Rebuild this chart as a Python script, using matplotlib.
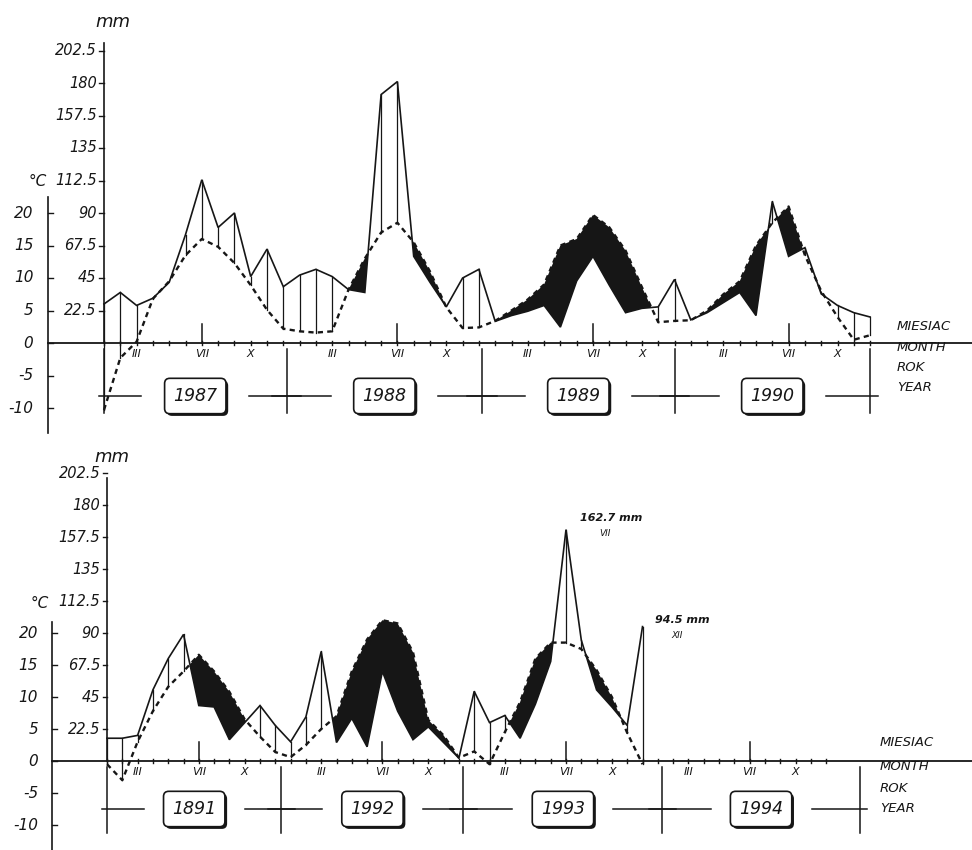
import numpy as np
import matplotlib.pyplot as plt
from matplotlib import patheffects

MM_PER_DEG = 4.5
INK = '#161616'

# monthly mean temperature (deg C) and precipitation (mm), Jan..Dec
years_top = ['1987', '1988', '1989', '1990']
temp_top = [-10.3, -2.3, 0.2, 6.8, 9.5, 13.5, 16.0, 14.8, 12.3, 8.9, 5.1, 2.2,
            1.8, 1.6, 1.8, 8.2, 13.0, 17.0, 18.5, 15.5, 11.0, 5.5, 2.3, 2.4,
            3.4, 5.0, 6.7, 9.0, 15.0, 16.0, 19.7, 17.8, 14.2, 8.6, 3.2, 3.4,
            3.5, 5.0, 7.5, 9.5, 15.0, 18.5, 21.0, 13.5, 8.0, 4.0, 0.5, 1.2]
prec_top = [27, 35, 26, 31, 42, 75, 113, 80, 90, 46, 65, 39,
            47, 51, 46, 37, 35, 172, 181, 60, 42, 25, 45, 51,
            15, 19, 22, 26, 11, 43, 60, 40, 21, 24, 25, 44,
            16, 21, 28, 35, 19, 98, 60, 66, 34, 26, 21, 18]

years_bottom = ['1891', '1992', '1993', '1994']
temp_bottom = [-0.5, -3.0, 3.0, 7.8, 11.6, 14.0, 16.6, 14.0, 10.8, 6.5, 3.8, 1.4,
               0.6, 2.5, 5.0, 7.0, 14.0, 19.0, 22.0, 21.5, 17.0, 6.4, 4.0, 0.5,
               1.5, -0.5, 4.5, 9.2, 16.0, 18.5, 18.5, 17.5, 14.2, 10.0, 4.4, -0.5]
prec_bottom = [16, 16, 18, 50, 72, 89, 39, 38, 15, 27, 39, 25,
               13.5, 31, 77, 13, 30, 10, 63, 35, 15, 24, 13, 2,
               49, 27, 32, 16, 40, 70, 162.7, 85, 50, 38, 25, 94.5]

prec_ticks = [22.5, 45, 67.5, 90, 112.5, 135, 157.5, 180, 202.5]
prec_tick_labels = ['22.5', '45', '67.5', '90', '112.5', '135', '157.5', '180', '202.5']
temp_ticks = [20, 15, 10, 5, 0, -5, -10]
month_marks = {2: 'III', 6: 'VII', 9: 'X'}
side_labels = ['MIESIAC', 'MONTH', 'ROK', 'YEAR']

W, H = 972, 850
fig = plt.figure(figsize=(W / 100, H / 100), dpi=100)
fig.patch.set_facecolor('white')

txt = dict(color=INK, fontstyle='italic', family='DejaVu Sans')


def panel(top_px, bot_px, x0, dx, y0, dy, years, temp, prec, bounds, lay):
    ax = fig.add_axes([0, 1 - bot_px / H, 1, (bot_px - top_px) / H])
    ax.set_xlim(-x0 / dx, (W - x0) / dx)
    ax.set_ylim((y0 - bot_px) / dy, (y0 - top_px) / dy)
    ax.axis('off')
    xd = lambda px: (px - x0) / dx
    yd = lambda py: (y0 - py) / dy

    x = np.arange(len(temp))
    t = np.array(temp, dtype=float)
    p = np.array(prec, dtype=float) / MM_PER_DEG

    # arid period (temperature above precipitation) in black
    ax.fill_between(x, t, p, where=t >= p, interpolate=True, color=INK, lw=0)
    # humid period: vertical hatch at each month
    for xi, ti, pi in zip(x, t, p):
        if pi > ti:
            ax.plot([xi, xi], [ti, pi], color=INK, lw=0.9)
    ax.plot(x, p, color=INK, lw=1.2, solid_joinstyle='miter')
    ax.plot(x, t, color=INK, lw=1.7, ls=(0, (2.2, 1.8)))

    # axes lines
    ax.plot([xd(lay['taxis']), xd(W)], [0, 0], color=INK, lw=1.3)
    ax.plot([xd(lay['taxis'])] * 2, [yd(lay['tspan'][0]), yd(lay['tspan'][1])], color=INK, lw=1.2)
    ax.plot([0, 0], [0, yd(lay['ptop'])], color=INK, lw=1.2)
    for v, lab in zip(prec_ticks, prec_tick_labels):
        ax.plot([-0.28, 0], [v / MM_PER_DEG] * 2, color=INK, lw=1.0)
        ax.text(-0.45, v / MM_PER_DEG, lab, ha='right', va='center', fontsize=10.5, **txt)
    for v in temp_ticks:
        ax.plot([xd(lay['taxis']), xd(lay['taxis']) + 0.3], [v, v], color=INK, lw=1.0)
        ax.text(xd(lay['taxis']) - 0.9, v, str(v), ha='right', va='center',
                fontsize=11, **txt)
    ax.text(xd(lay['mm'][0]), yd(lay['mm'][1]), 'mm', ha='center', va='center', fontsize=13, **txt)
    ax.text(xd(lay['degc'][0]), yd(lay['degc'][1]), '°C', ha='center', va='center', fontsize=11, **txt)

    # month ticks and labels
    for k in range(len(years)):
        for m in range(12):
            xm = 12 * k + m
            ax.plot([xm, xm], [-0.35, 0.35], color=INK, lw=1.0)
            if m == 6:
                ax.plot([xm, xm], [0, 3.0], color=INK, lw=1.1)
            if m in month_marks:
                ax.text(xm, -1.7, month_marks[m], ha='center', va='center', fontsize=8, **txt)

    # year crosses and boxes
    yl = yd(lay['yline'])
    for b in bounds:
        ax.plot([b, b], [yd(lay['cross'][0]), yd(lay['cross'][1])], color=INK, lw=1.1)
    gap = 3.3
    for k, yr in enumerate(years):
        b0, b1 = bounds[k], bounds[k + 1]
        c = (b0 + b1) / 2
        ax.plot([b0 - (0.3 if k == 0 else 0.9), c - gap], [yl, yl], color=INK, lw=1.1)
        ax.plot([c + gap, b1 + (0.5 if k == len(years) - 1 else 0.9)], [yl, yl], color=INK, lw=1.1)
        tx = ax.text(c, yl, yr, ha='center', va='center', fontsize=12.5, **txt,
                     bbox=dict(boxstyle='round,pad=0.5,rounding_size=0.3', fc='white',
                               ec=INK, lw=1.2))
        tx.get_bbox_patch().set_path_effects([
            patheffects.SimplePatchShadow(offset=(1.6, -1.6), shadow_rgbFace=INK, alpha=1),
            patheffects.Normal()])

    for lab, py in zip(side_labels, lay['side']):
        ax.text(xd(lay['sidex']), yd(py), lab, ha='left', va='center', fontsize=9.5, **txt)
    return ax, xd, yd


top_lay = dict(taxis=48, tspan=(197, 433), ptop=43, yline=396, cross=(349, 413),
               mm=(113, 22), degc=(38, 182), side=(326, 347, 367, 387), sidex=897)
panel(0, 440, 104, 16.3, 343, 6.5, years_top, temp_top, prec_top,
      [0, 11.2, 23.2, 35.0, 47.0], top_lay)

bot_lay = dict(taxis=52, tspan=(622, 850), ptop=478, yline=809, cross=(767, 833),
               mm=(112, 457), degc=(40, 603), side=(743, 767, 788, 808), sidex=880)
ax2, xd2, yd2 = panel(440, 850, 107, 15.3, 761, 6.4, years_bottom, temp_bottom, prec_bottom,
                      [0, 11.4, 23.3, 36.3, 49.2], bot_lay)

# annotations of the two extreme monthly totals
ax2.text(xd2(611), yd2(518), '162.7 mm', ha='center', va='center', fontsize=8,
         fontweight='bold', **txt)
ax2.text(xd2(605), yd2(534), 'VII', ha='center', va='center', fontsize=6.5, **txt)
ax2.text(xd2(682), yd2(620), '94.5 mm', ha='center', va='center', fontsize=8,
         fontweight='bold', **txt)
ax2.text(xd2(677), yd2(635), 'XII', ha='center', va='center', fontsize=6.5, **txt)

fig.savefig('out.png', dpi=100, facecolor='white')
